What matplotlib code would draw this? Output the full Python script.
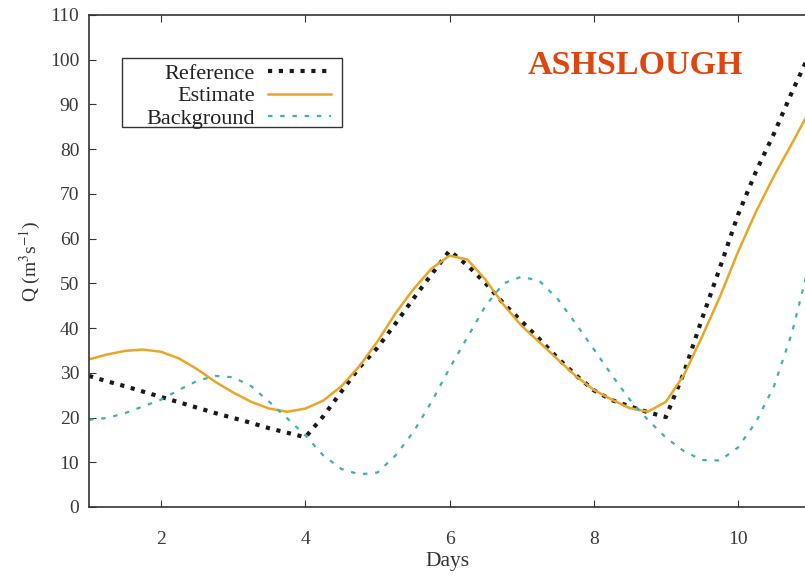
import numpy as np
import matplotlib.pyplot as plt
from matplotlib.patches import Rectangle

plt.rcParams['font.family'] = ['Liberation Serif', 'DejaVu Serif']
plt.rcParams['mathtext.fontset'] = 'stix'

days = np.arange(1, 11.01, 0.25)

reference = [29.3, 28.1, 27.0, 25.8, 24.6, 23.4, 22.2, 21.0, 19.9, 18.8,
             17.6, 16.6, 15.6, 20.3, 25.8, 31.2, 35.6, 41.0, 46.6, 52.0,
             57.3, 54.0, 50.0, 45.5, 41.5, 37.5, 33.3, 29.5, 26.1, 23.9,
             22.5, 21.2, 20.1, 30.0, 42.0, 53.5, 65.3, 75.0, 83.5, 92.8,
             101.5]
estimate = [33.0, 34.1, 34.9, 35.2, 34.7, 33.2, 30.8, 28.0, 25.6, 23.5,
            22.0, 21.3, 22.0, 23.8, 27.0, 31.5, 37.0, 43.3, 48.7, 53.3,
            56.2, 55.3, 50.8, 45.2, 40.5, 36.8, 33.0, 29.3, 26.2, 24.0,
            22.1, 21.3, 23.5, 29.5, 38.0, 47.0, 57.0, 66.0, 74.0, 81.3,
            88.8]
background = [19.5, 19.9, 21.0, 22.5, 24.0, 26.2, 28.2, 29.3, 29.0, 27.0,
              23.5, 19.8, 16.0, 11.5, 8.5, 7.3, 7.7, 11.5, 16.8, 23.5,
              31.0, 38.0, 45.0, 50.0, 51.5, 50.5, 46.5, 41.0, 35.3, 29.5,
              24.0, 19.5, 15.5, 12.5, 10.5, 10.4, 13.3, 19.0, 27.0, 39.0,
              55.0]

fig = plt.figure(figsize=(8.05, 5.76), dpi=100)
ax = fig.add_axes([0.1106, 0.1198, 0.8894, 0.8542])

ax.plot(days, reference, color='#1a1a1a', lw=3, dashes=(1.0, 1.6),
        label='Reference')
ax.plot(days, estimate, color='#E9A628', lw=1.8, solid_joinstyle='round',
        label='Estimate')
ax.plot(days, background, color='#3DB2B0', lw=1.6, dashes=(2.0, 3.5),
        label='Background')

ax.set_xlim(1, 10.93)
ax.set_ylim(0, 110)
ax.set_xticks([2, 4, 6, 8, 10])
ax.set_yticks(range(0, 111, 10))
ax.tick_params(direction='in', length=5, width=0.8, colors='#333333',
               labelsize=14, top=True)
ax.tick_params(axis='y', pad=7)
ax.tick_params(axis='x', pad=17)
for lab in ax.get_xticklabels() + ax.get_yticklabels():
    lab.set_color('#3a3a3a')
for s in ['left', 'bottom', 'top']:
    ax.spines[s].set_color('#333333')
    ax.spines[s].set_linewidth(1.2)
ax.spines['right'].set_visible(False)

ax.set_xlabel('Days', fontsize=15.5, color='#333333', labelpad=3)
ax.set_ylabel('Q (m$^{3}$s$^{-1}$)', fontsize=14, color='#333333', labelpad=5)

# legend box drawn separately so the text can sit further from its left edge
ax.add_patch(Rectangle((0.046, 0.772), 0.307, 0.141, transform=ax.transAxes,
                       fill=True, facecolor='white', edgecolor='#333333',
                       lw=1.0, zorder=4))
leg = ax.legend(loc='upper right', bbox_to_anchor=(0.3375, 0.902),
                markerfirst=False, fontsize=16, frameon=False,
                handlelength=2.8, borderpad=0.0, labelspacing=0.09,
                handletextpad=0.6, borderaxespad=0)
leg.set_zorder(5)
for t in leg.get_texts():
    t.set_color('#222222')

ax.text(0.763, 0.897, 'ASHSLOUGH', transform=ax.transAxes, ha='center',
        va='center', fontsize=24.5, fontweight='bold', color='#E0450F')

plt.savefig('out.png', dpi=100)
